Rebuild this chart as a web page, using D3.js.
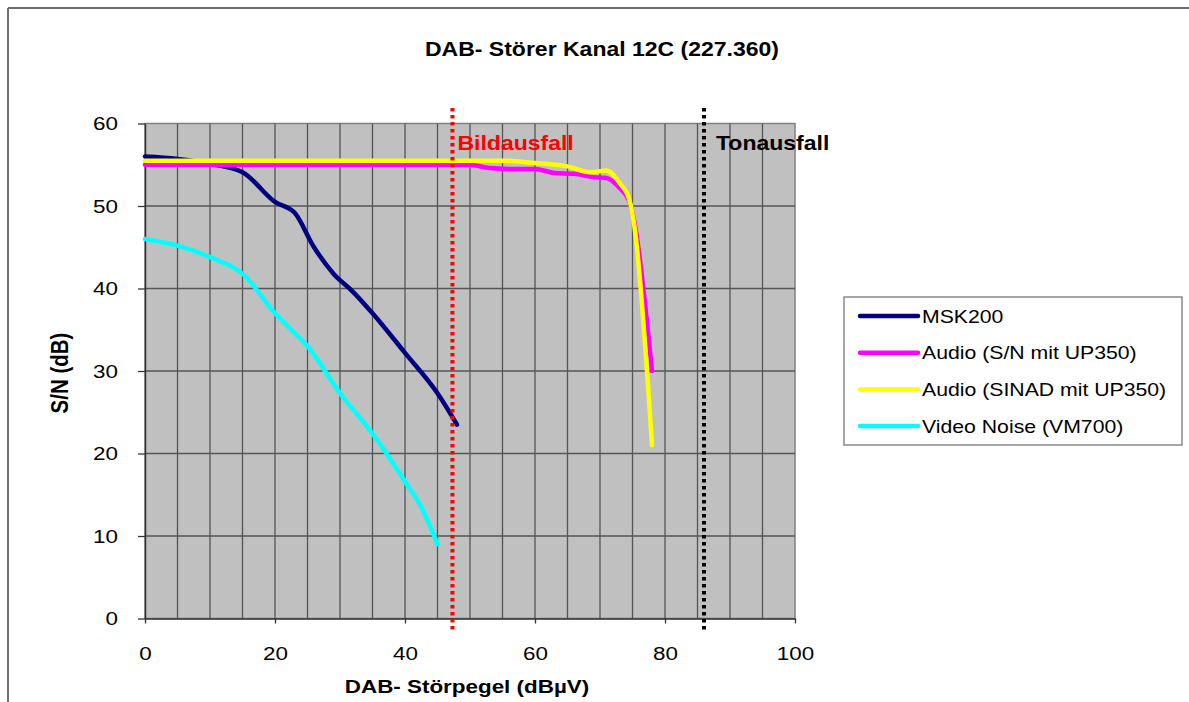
<!DOCTYPE html>
<html>
<head>
<meta charset="utf-8">
<script src="https://cdnjs.cloudflare.com/ajax/libs/d3/7.8.5/d3.min.js"></script>
<style>
  body { margin: 0; background: #fff; }
  svg { display: block; font-family: "Liberation Sans", Arial, sans-serif; }
</style>
</head>
<body>
<svg></svg>
<script>
// data
let mskX = [0, 5, 10, 15, 20, 23, 26, 29, 32, 35, 40, 45, 48]
let mskY = [56, 55.7, 55.1, 54.1, 50.5, 49.2, 45, 41.8, 39.6, 37, 32.2, 27.3, 23.5]

let snX = [0, 10, 20, 30, 40, 50, 53, 56, 60, 63, 66, 69, 71, 73, 74.5, 75.3, 78]
let snY = [55, 55, 55, 55, 55, 55, 54.6, 54.5, 54.5, 54, 53.9, 53.5, 53.4, 52.2, 50.6, 48, 30]

let sinadX = [0, 10, 20, 30, 40, 50, 55, 60, 65, 68.5, 71, 73, 74.5, 75.3, 78]
let sinadY = [55.5, 55.5, 55.5, 55.5, 55.5, 55.5, 55.5, 55.2, 54.8, 54.1, 54.3, 52.8, 50.8, 47.5, 21]

let vidX = [0, 5, 10, 15, 20, 22.5, 25, 30, 35, 40, 42.5, 45]
let vidY = [46, 45.2, 43.8, 41.8, 37, 35, 33, 27.3, 22.4, 16.6, 13.5, 9]

let seriesNames = ['MSK200', 'Audio (S/N mit UP350)', 'Audio (SINAD mit UP350)', 'Video Noise (VM700)']
let seriesColors = ['#000080', '#ff00ff', '#ffff00', '#00ffff']

let xTicks = [0, 20, 40, 60, 80, 100]
let yTicks = [0, 10, 20, 30, 40, 50, 60]

let markerNames = ['Bildausfall', 'Tonausfall']
let markerX = [47.3, 86.0]
let markerColors = ['#ff0000', '#000000']

let width = 1189
let height = 702
let plotLeft = 145
let plotRight = 795
let plotTop = 123.5
let plotBottom = 618.5
let stretch = 1.18   // text in the original is drawn a bit wide

let svg = d3.select('svg').attr('width', width).attr('height', height)

let xScale = d3.scaleLinear().domain([0, 100]).range([plotLeft, plotRight])
let yScale = d3.scaleLinear().domain([0, 60]).range([plotBottom, plotTop])

let series = [
  d3.zip(mskX, mskY),
  d3.zip(snX, snY),
  d3.zip(sinadX, sinadY),
  d3.zip(vidX, vidY)
]

let wideText = (x, y, str, size, bold, anchor) => {
  return svg.append('text')
    .attr('transform', 'translate(' + x + ',' + y + ') scale(' + stretch + ',1)')
    .attr('text-anchor', anchor || 'start')
    .attr('font-size', size)
    .attr('font-weight', bold ? 'bold' : 'normal')
    .text(str)
}

// chart area border (only top & left visible)
svg.append('line').attr('x1', 8).attr('y1', 8).attr('x2', width).attr('y2', 8)
  .attr('stroke', '#6e6e6e').attr('stroke-width', 2)
svg.append('line').attr('x1', 8).attr('y1', 8).attr('x2', 8).attr('y2', height)
  .attr('stroke', '#6e6e6e').attr('stroke-width', 2)

// plot background
svg.append('rect')
  .attr('x', plotLeft).attr('y', plotTop)
  .attr('width', plotRight - plotLeft).attr('height', plotBottom - plotTop)
  .attr('fill', '#c0c0c0')
  .attr('stroke', '#808080').attr('stroke-width', 1.5)

// grid
svg.append('g').selectAll('line')
  .data(d3.range(5, 100, 5))
  .enter().append('line')
  .attr('x1', d => xScale(d)).attr('x2', d => xScale(d))
  .attr('y1', plotTop).attr('y2', plotBottom)
  .attr('stroke', '#555').attr('stroke-width', 1.3)

svg.append('g').selectAll('line')
  .data(yTicks.slice(1, -1))
  .enter().append('line')
  .attr('x1', plotLeft).attr('x2', plotRight)
  .attr('y1', d => yScale(d)).attr('y2', d => yScale(d))
  .attr('stroke', '#555').attr('stroke-width', 1.3)

// axes
let xAxis = d3.axisBottom(xScale).tickValues(xTicks).tickSize(5).tickPadding(23).tickSizeOuter(0)
let yAxis = d3.axisLeft(yScale).tickValues(yTicks).tickSize(7).tickPadding(20).tickSizeOuter(0)

let gx = svg.append('g')
  .attr('transform', 'translate(0,' + plotBottom + ')')
  .call(xAxis)
let gy = svg.append('g')
  .attr('transform', 'translate(' + plotLeft + ',0)')
  .call(yAxis)

for (let g of [gx, gy]) {
  g.selectAll('.domain').attr('stroke', '#333').attr('stroke-width', 1.5)
  g.selectAll('.tick line').attr('stroke', '#333').attr('stroke-width', 1.3)
  g.selectAll('.tick text')
    .attr('font-family', '"Liberation Sans", Arial, sans-serif')
    .attr('font-size', 19).attr('fill', '#000')
    .each(function () {
      let t = d3.select(this)
      t.attr('x', (+t.attr('x') || 0) / stretch)
      t.attr('transform', 'scale(' + stretch + ',1)')
    })
}

// series lines
let line = d3.line()
  .x(d => xScale(d[0]))
  .y(d => yScale(d[1]))
  .curve(d3.curveMonotoneX)

svg.append('g').selectAll('path')
  .data(series)
  .enter().append('path')
  .attr('d', line)
  .attr('fill', 'none')
  .attr('stroke', (d, i) => seriesColors[i])
  .attr('stroke-width', 4.5)
  .attr('stroke-linecap', 'round')
  .attr('stroke-linejoin', 'round')

// dotted marker lines
svg.append('g').selectAll('line')
  .data(markerX)
  .enter().append('line')
  .attr('x1', d => xScale(d)).attr('x2', d => xScale(d))
  .attr('y1', 108).attr('y2', 633)
  .attr('stroke', (d, i) => markerColors[i])
  .attr('stroke-width', 4)
  .attr('stroke-dasharray', '3.5,3.5')

markerX.forEach((d, i) => {
  wideText(xScale(d) + (i == 0 ? 5 : 12), 150, markerNames[i], 19.5, true)
    .attr('fill', markerColors[i])
})

// title
wideText(602, 56, 'DAB- Störer Kanal 12C (227.360)', 19.5, true, 'middle')

// axis titles
wideText(467, 693, 'DAB- Störpegel (dBµV)', 19, true, 'middle')

svg.append('text')
  .attr('transform', 'translate(68,373) scale(' + stretch + ',1) rotate(-90)')
  .attr('text-anchor', 'middle')
  .attr('font-size', 20.5).attr('font-weight', 'bold')
  .text('S/N (dB)')

// legend
svg.append('rect')
  .attr('x', 844).attr('y', 297).attr('width', 338).attr('height', 148)
  .attr('fill', '#fff').attr('stroke', '#888').attr('stroke-width', 1.5)

seriesNames.forEach((name, i) => {
  let ly = 316 + i * 36.7
  svg.append('line')
    .attr('x1', 860).attr('x2', 918).attr('y1', ly).attr('y2', ly)
    .attr('stroke', seriesColors[i])
    .attr('stroke-width', 4.5)
    .attr('stroke-linecap', 'round')
  wideText(922, ly + 6.5, name, 18, false)
})
</script>
</body>
</html>
